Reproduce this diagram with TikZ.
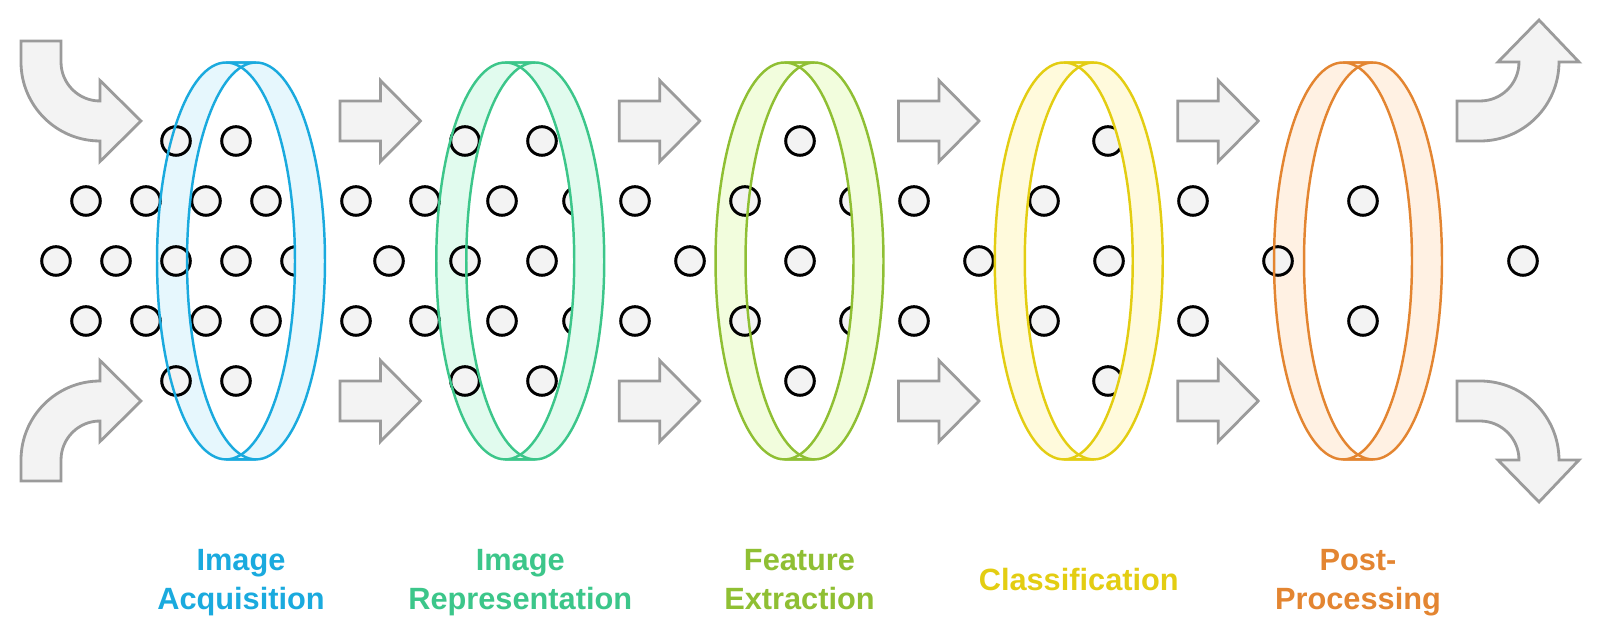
\documentclass[tikz,border=0pt]{standalone}
\usepackage{fontspec}
\newfontfamily\labfont{Liberation Sans}

\definecolor{acqline}{HTML}{1AAADE}
\definecolor{acqfill}{HTML}{E6F7FD}
\definecolor{repline}{HTML}{3CC68A}
\definecolor{repfill}{HTML}{E1FBEE}
\definecolor{fealine}{HTML}{8FBF33}
\definecolor{feafill}{HTML}{F2FDDD}
\definecolor{clsline}{HTML}{E3CD12}
\definecolor{clsfill}{HTML}{FFFADC}
\definecolor{pstline}{HTML}{E38531}
\definecolor{pstfill}{HTML}{FFF1E3}
\definecolor{dotgray}{HTML}{F3F3F3}
\definecolor{arrowgray}{HTML}{9B9B9B}

\begin{document}
\begin{tikzpicture}[
    x=0.02cm, y=-0.02cm,
    dot/.style={circle, draw=black, fill=dotgray, line width=1.7pt, minimum size=0.572cm, inner sep=0pt},
    blockarrow/.style={draw=arrowgray, fill=dotgray, line width=1.6pt, line join=miter},
    ringline/.style={line width=1.4pt},
    stagelabel/.style={font=\labfont\bfseries\fontsize{17.5}{22.4}\selectfont, align=center, inner sep=0pt, anchor=north}
]
    \useasboundingbox (0,0) rectangle (1600,641);

    % Incoming curved arrows
    \draw[blockarrow] (21,41) -- (21,62) arc[start angle=180, end angle=270, radius=1.58cm]
        -- (100,161.5) -- (141,121) -- (100,80.5) -- (100,101)
        arc[start angle=270, end angle=180, radius=0.78cm] -- (61,41) -- cycle;
    \draw[blockarrow] (21,481) -- (21,460) arc[start angle=180, end angle=90, radius=1.58cm]
        -- (100,360.5) -- (141,401) -- (100,441.5) -- (100,421)
        arc[start angle=90, end angle=180, radius=0.78cm] -- (61,481) -- cycle;

    % Straight arrows between the stages
    \foreach \x in {340, 619.25, 898.5, 1177.75}{
        \foreach \y in {121, 401}{
            \draw[blockarrow] (\x,\y) ++(0,-20) -- ++(40.5,0) -- ++(0,-20.5) -- ++(40,40.5)
                -- ++(-40,40.5) -- ++(0,-20.5) -- ++(-40.5,0) -- cycle;
        }
    }

    % Outgoing curved arrows
    \draw[blockarrow] (1457,141) -- (1480,141) arc[start angle=270, end angle=360, radius=1.58cm]
        -- (1579,62) -- (1539,20) -- (1498,62) -- (1519,62)
        arc[start angle=0, end angle=-90, radius=0.78cm] -- (1457,101) -- cycle;
    \draw[blockarrow] (1457,381) -- (1480,381) arc[start angle=90, end angle=0, radius=1.58cm]
        -- (1579,460) -- (1539,502) -- (1498,460) -- (1519,460)
        arc[start angle=0, end angle=90, radius=0.78cm] -- (1457,421) -- cycle;

    % Rings: left band behind the dots
    \foreach \i/\fl in {0/acqfill, 1/repfill, 2/feafill, 3/clsfill, 4/pstfill}{
        \pgfmathsetmacro{\ax}{226+279.25*\i}
        \fill[\fl] (\ax,62.5) arc[start angle=90, end angle=270, x radius=1.38cm, y radius=3.97cm]
            -- ++(30,0) arc[start angle=270, end angle=90, x radius=1.38cm, y radius=3.97cm] -- cycle;
    }

    % Dots
    \foreach \x [count=\n] in {176, 236, 465, 542, 800, 1108}{
        \node[dot] (top-\n) at (\x,141) {};
        \node[dot] (bot-\n) at (\x,381) {};
    }
    \foreach \x [count=\n] in {86, 146, 206, 266, 356, 425, 502, 578, 635, 745, 855, 914, 1044, 1193, 1363}{
        \node[dot] (up-\n) at (\x,201) {};
        \node[dot] (low-\n) at (\x,321) {};
    }
    \foreach \x [count=\n] in {56, 116, 176, 236, 296, 389, 465, 542, 690, 800, 979, 1109, 1278, 1523}{
        \node[dot] (mid-\n) at (\x,261) {};
    }

    % Rings: right band in front, then outlines
    \foreach \i/\ln/\fl in {0/acqline/acqfill, 1/repline/repfill, 2/fealine/feafill, 3/clsline/clsfill, 4/pstline/pstfill}{
        \pgfmathsetmacro{\ax}{226+279.25*\i}
        \filldraw[ringline, draw=\ln, fill=\fl] (\ax,62.5) arc[start angle=90, end angle=-90, x radius=1.38cm, y radius=3.97cm]
            -- ++(30,0) arc[start angle=-90, end angle=90, x radius=1.38cm, y radius=3.97cm] -- cycle;
        \draw[ringline, draw=\ln] (\ax,62.5) arc[start angle=90, end angle=270, x radius=1.38cm, y radius=3.97cm]
            -- ++(30,0) arc[start angle=270, end angle=90, x radius=1.38cm, y radius=3.97cm] -- cycle;
    }

    % Stage labels
    \node[stagelabel, text=acqline] (lab-acq) at (241,548.5) {Image\\Acquisition};
    \node[stagelabel, text=repline] (lab-rep) at (520.25,548.5) {Image\\Representation};
    \node[stagelabel, text=fealine] (lab-fea) at (799.5,548.5) {Feature\\Extraction};
    \node[stagelabel, text=clsline] (lab-cls) at (1078.75,568) {Classification};
    \node[stagelabel, text=pstline] (lab-pst) at (1358,548.5) {Post-\\Processing};

\end{tikzpicture}
\end{document}
